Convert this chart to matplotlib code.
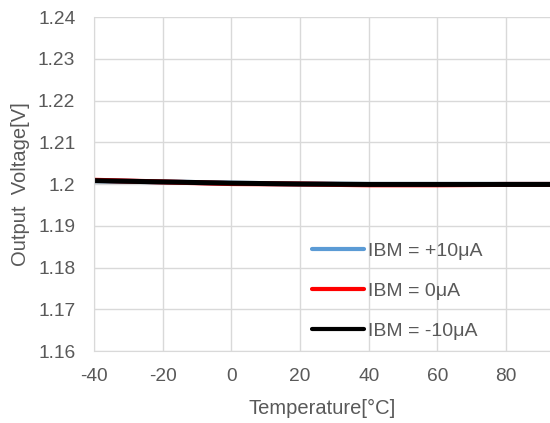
import matplotlib
matplotlib.use("Agg")
import matplotlib.pyplot as plt

temps = [-40, -20, 0, 20, 40, 60, 80, 100]
v_p10 = [1.2008, 1.2005, 1.2002, 1.2000, 1.1999, 1.1999, 1.1999, 1.1999]
v_0 = [1.2009, 1.2005, 1.2001, 1.2000, 1.1998, 1.1998, 1.1999, 1.1999]
v_m10 = [1.2008, 1.2005, 1.2002, 1.2000, 1.1999, 1.1999, 1.1999, 1.1999]
labels = ["IBM = +10μA", "IBM = 0μA", "IBM = -10μA"]
colors = ["#5b9bd5", "#ff0000", "#000000"]
xticks = [-40, -20, 0, 20, 40, 60, 80]
yticks = [1.16, 1.17, 1.18, 1.19, 1.20, 1.21, 1.22, 1.23, 1.24]
ytick_labels = ["1.16", "1.17", "1.18", "1.19", "1.2", "1.21", "1.22", "1.23", "1.24"]

plt.rcParams['font.family'] = ['Liberation Sans', 'DejaVu Sans']
plt.rcParams['axes.unicode_minus'] = False
fig = plt.figure(figsize=(5.5, 4.23), dpi=100)
ax = fig.add_axes([94/550, 1 - 351/423, 1 - 94/550, (351 - 17)/423])

for v, lab, c in zip([v_p10, v_0, v_m10], labels, colors):
    ax.plot(temps, v, color=c, lw=3.6, label=lab, solid_capstyle='round')

ax.set_xlim(-40, 92.8)
ax.set_ylim(1.16, 1.24)
ax.set_xticks(xticks)
ax.set_yticks(yticks)
ax.set_yticklabels(ytick_labels)
ax.grid(True, color="#d9d9d9", lw=1)
ax.set_axisbelow(True)
for s in ["top", "right"]:
    ax.spines[s].set_visible(False)
for s in ["left", "bottom"]:
    ax.spines[s].set_color("#d9d9d9")
ax.tick_params(length=0, labelsize=13.8, colors="#595959")
ax.tick_params(axis='y', pad=13.5)
ax.tick_params(axis='x', pad=12)
ax.set_xlabel("Temperature[°C]", fontsize=14.5, color="#595959", labelpad=10)
ax.set_ylabel("Output  Voltage[V]", fontsize=14.5, color="#595959", labelpad=6)

leg = ax.legend(loc="center left", bbox_to_anchor=(294/550, 1 - 291/423),
                bbox_transform=fig.transFigure, frameon=False,
                fontsize=14, labelcolor="#595959", handlelength=2.68,
                handletextpad=0.2, labelspacing=1.15)
for line in leg.get_lines():
    line.set_linewidth(3)

fig.savefig("out.png", dpi=100)
